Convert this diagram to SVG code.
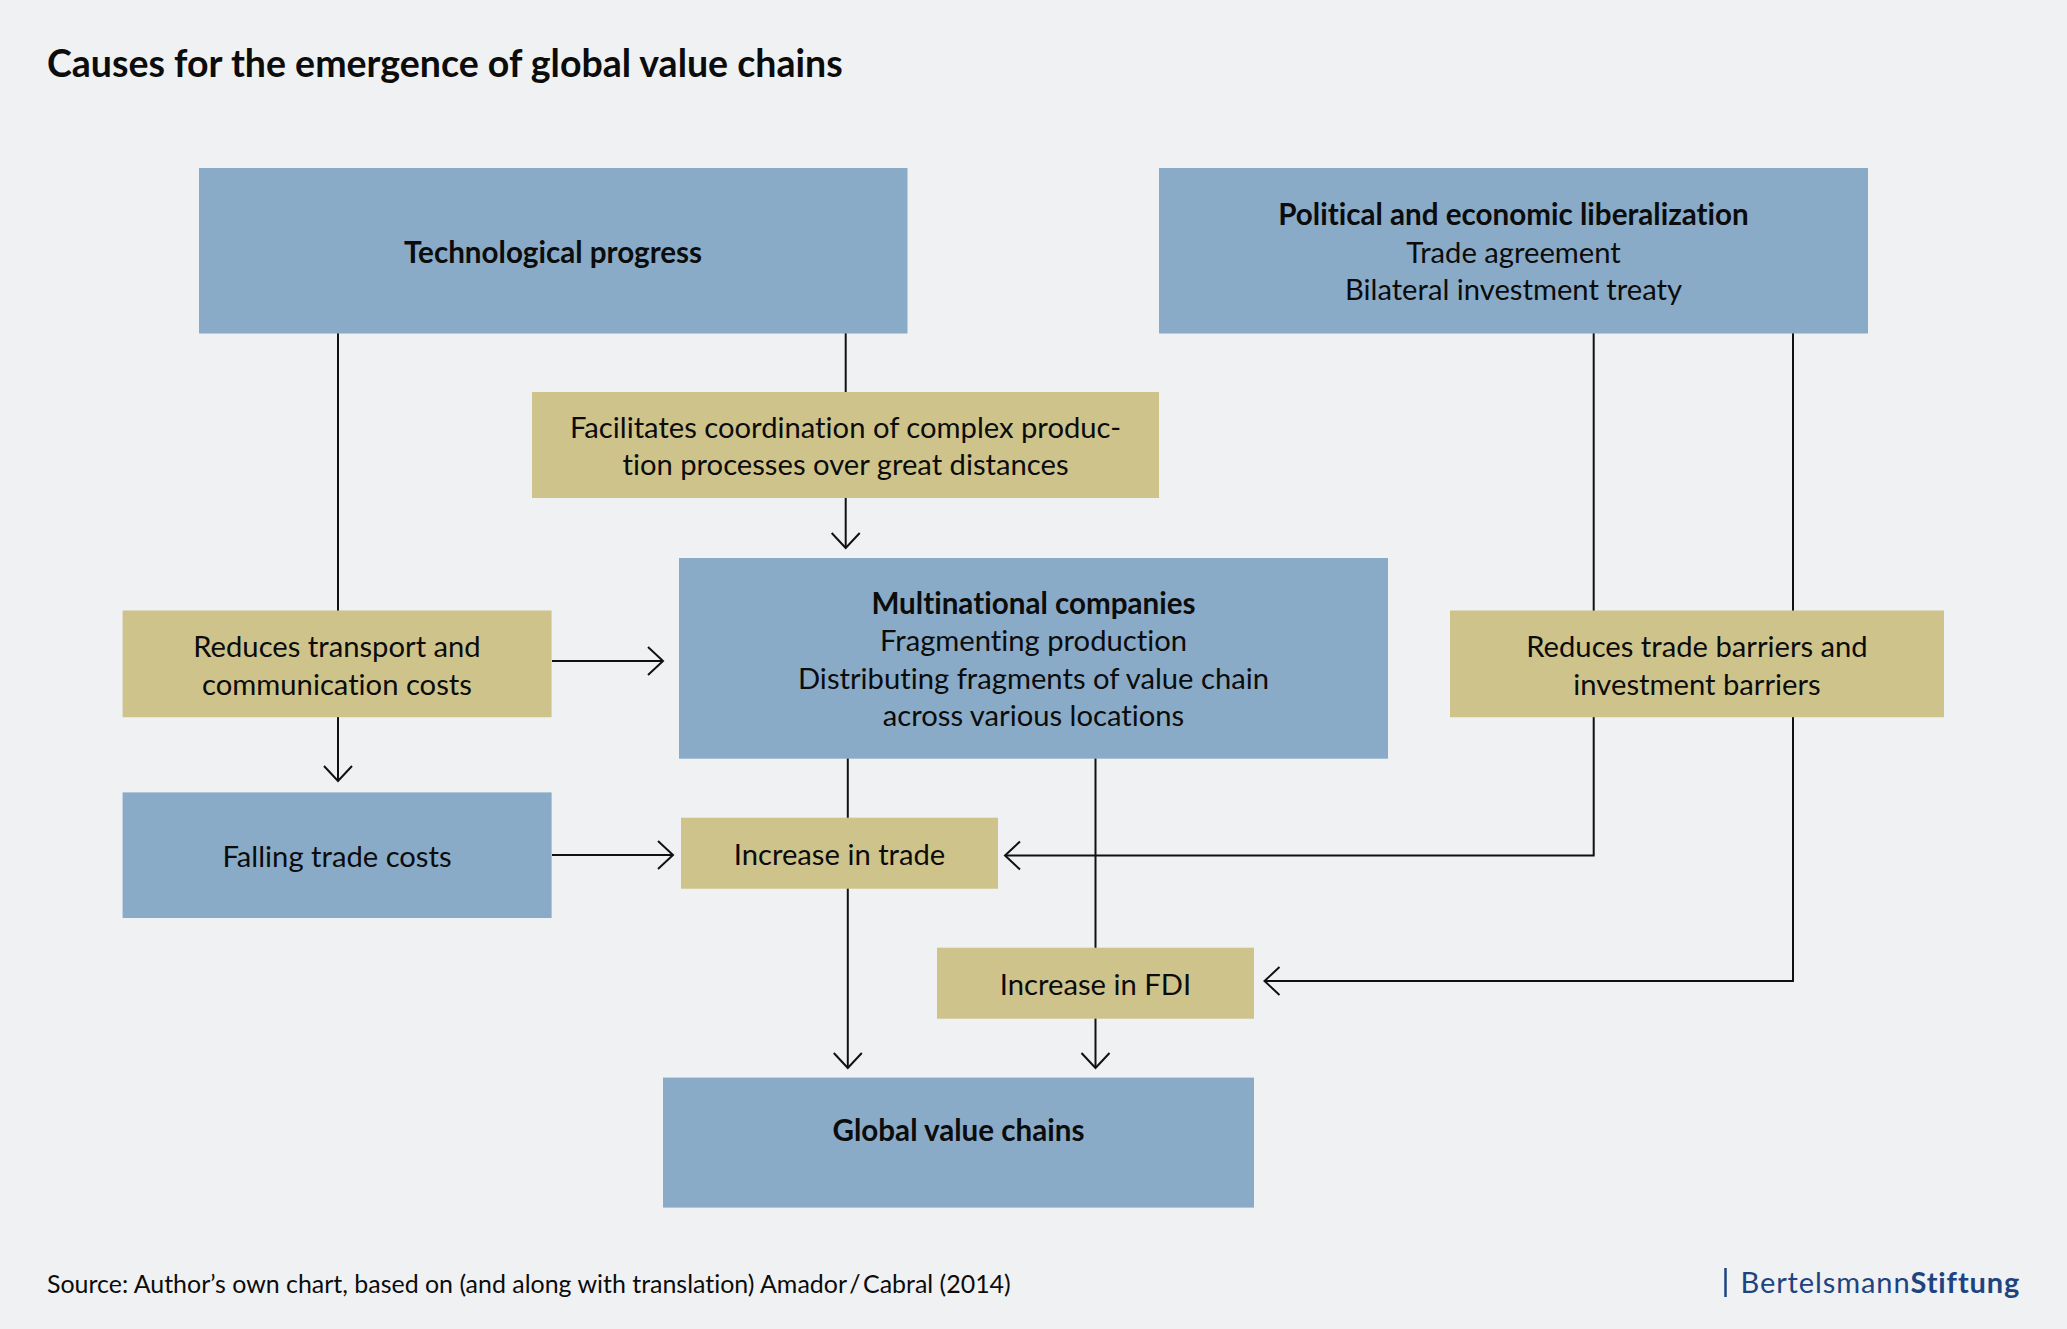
<svg xmlns="http://www.w3.org/2000/svg" width="2067" height="1329" viewBox="0 0 2067 1329">
<style>
text{font-family:Lato,"Open Sans","Liberation Sans",sans-serif;fill:#0c0c0c;font-size:29.2px;text-anchor:middle;font-variant-ligatures:none}
.b{font-weight:700;font-size:29.6px}
.blue{fill:#89abc7}
.gold{fill:#cec48b}
.c{fill:none;stroke:#111;stroke-width:2}
</style>
<defs>
<marker id="a" markerUnits="userSpaceOnUse" markerWidth="20" markerHeight="34" refX="16" refY="15" orient="auto" overflow="visible">
<path d="M1 1 L16 15 L1 29" fill="none" stroke="#111" stroke-width="2"/>
</marker>
</defs>
<rect width="2067" height="1329" fill="#eff1f3"/>
<text x="47" y="76.6" style="font-size:37.5px;font-weight:700;text-anchor:start">Causes for the emergence of global value chains</text>
<g id="connectors" class="c">
<path class="c" d="M338 333V611"/>
<path class="c" d="M338 717V781" marker-end="url(#a)"/>
<path class="c" d="M845.7 333V392"/>
<path class="c" d="M845.7 498V548" marker-end="url(#a)"/>
<path class="c" d="M552 661H663" marker-end="url(#a)"/>
<path class="c" d="M552 855H673" marker-end="url(#a)"/>
<path class="c" d="M847.8 758V818"/>
<path class="c" d="M847.8 888V1068" marker-end="url(#a)"/>
<path class="c" d="M1095.5 758V948"/>
<path class="c" d="M1095.5 1018V1068" marker-end="url(#a)"/>
<path class="c" d="M1593.7 333V611"/>
<path class="c" d="M1793 333V611"/>
<path class="c" d="M1593.7 717V855.5H1005" marker-end="url(#a)"/>
<path class="c" d="M1793 717V981H1264.5" marker-end="url(#a)"/>
</g>
<g id="tech"><rect class="blue" x="199" y="168" width="708.5" height="165.5"/><text class="b" x="553" y="262.7">Technological progress</text></g>
<g id="policy"><rect class="blue" x="1159" y="168" width="709" height="165.5"/><text class="b" x="1513.5" y="224.7">Political and economic liberalization</text><text x="1513.5" y="262.5">Trade agreement</text><text x="1513.5" y="300">Bilateral investment treaty</text></g>
<g id="facilitates"><rect class="gold" x="532" y="392" width="627" height="106"/><text x="845.5" y="437.5">Facilitates coordination of complex produc-</text><text x="845.5" y="475">tion processes over great distances</text></g>
<g id="mnc"><rect class="blue" x="679" y="558" width="709" height="200.7"/><text class="b" x="1033.5" y="613.8">Multinational companies</text><text x="1033.5" y="651">Fragmenting production</text><text x="1033.5" y="688.5">Distributing fragments of value chain</text><text x="1033.5" y="726">across various locations</text></g>
<g id="reduces-transport"><rect class="gold" x="122.6" y="610.5" width="429" height="106.7"/><text x="337" y="656.5">Reduces transport and</text><text x="337" y="694.5">communication costs</text></g>
<g id="reduces-barriers"><rect class="gold" x="1450" y="610.5" width="494" height="106.7"/><text x="1697" y="656.5">Reduces trade barriers and</text><text x="1697" y="694.5">investment barriers</text></g>
<g id="falling"><rect class="blue" x="122.6" y="792.4" width="429" height="125.6"/><text x="337" y="866.5">Falling trade costs</text></g>
<g id="trade"><rect class="gold" x="681" y="817.7" width="317" height="71"/><text x="839.5" y="864.5">Increase in trade</text></g>
<g id="fdi"><rect class="gold" x="937" y="947.7" width="317" height="71"/><text x="1095.5" y="994.5">Increase in FDI</text></g>
<g id="gvc"><rect class="blue" x="663" y="1077.6" width="591" height="130"/><text class="b" x="958.5" y="1140.8">Global value chains</text></g>
<text x="47" y="1292.5" style="font-size:24.95px;text-anchor:start">Source: Author’s own chart, based on (and along with translation) Amador<tspan style="word-spacing:-4px"> / </tspan>Cabral (2014)</text>
<g id="logo"><path d="M1725.5 1268V1297" stroke="#1d4480" stroke-width="2.5"/><text x="1740.5" y="1293" style="font-size:29px;text-anchor:start;fill:#1d4480;letter-spacing:.9px">Bertelsmann<tspan font-weight="700">Stiftung</tspan></text></g>
</svg>
